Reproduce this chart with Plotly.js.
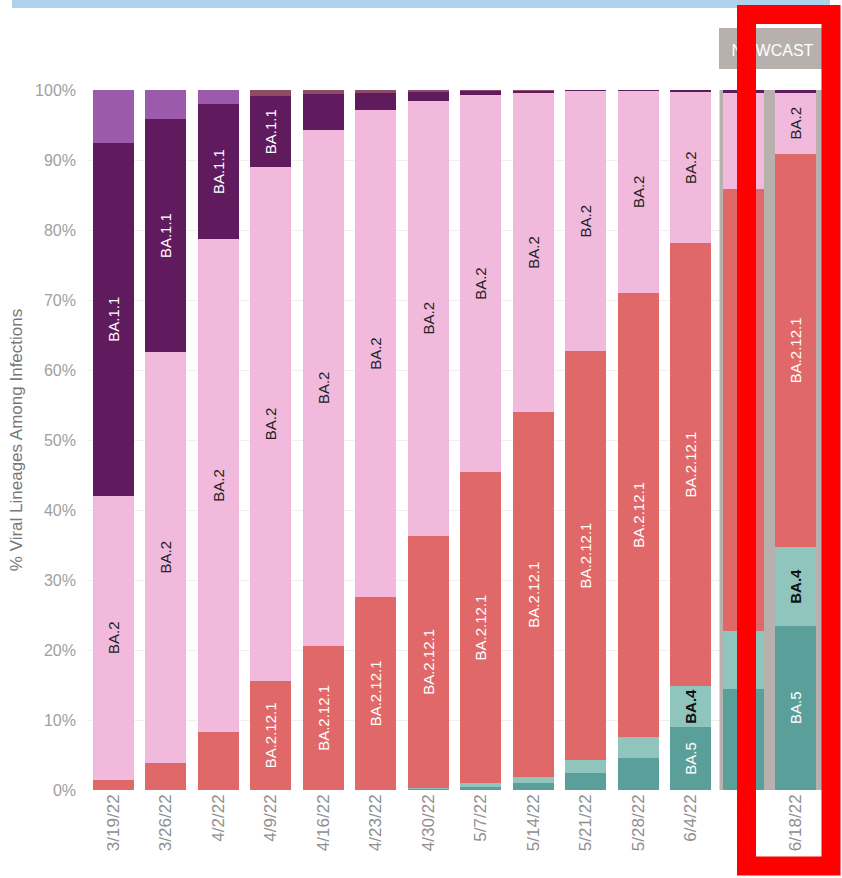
<!DOCTYPE html>
<html>
<head>
<meta charset="utf-8">
<script src="https://cdn.plot.ly/plotly-3.0.1.min.js"></script>
<style>
  html, body { margin: 0; padding: 0; background: #ffffff; }
  #chart { width: 842px; height: 878px; }
</style>
</head>
<body>
<div id="chart"></div>
<script>
// ---- Data (percent of viral lineages, bottom to top) ----
const weeks = ['3/19/22','3/26/22','4/2/22','4/9/22','4/16/22','4/23/22','4/30/22','5/7/22','5/14/22','5/21/22','5/28/22','6/4/22','6/11/22','6/18/22'];
const BA5      = [0,    0,    0,    0,    0,    0,    0.2,  0.4,  1.0,  2.4,  4.6,  9.0,  14.5, 23.5];
const BA4      = [0,    0,    0,    0,    0,    0,    0.1,  0.6,  0.8,  1.9,  3.0,  5.9,  8.2,  11.2];
const BA2121   = [1.5,  3.9,  8.3,  15.6, 20.6, 27.6, 36.0, 44.4, 52.2, 58.4, 63.4, 63.2, 63.2, 56.2];
const BA2      = [40.5, 58.7, 70.4, 73.4, 73.7, 69.5, 62.2, 53.9, 45.6, 37.1, 28.9, 21.6, 13.7, 8.7];
const BA11     = [50.5, 33.2, 19.3, 10.1, 5.1,  2.5,  1.2,  0.5,  0.3,  0.2,  0.1,  0.3,  0.4,  0.4];
const B11529   = [7.5,  4.2,  2.0,  0,    0,    0,    0,    0,    0,    0,    0,    0,    0,    0];
const OTHER    = [0,    0,    0,    0.9,  0.6,  0.4,  0.3,  0.2,  0.1,  0,    0,    0,    0,    0];
const yTicks   = [0,10,20,30,40,50,60,70,80,90,100];

const series = [
  {name: 'BA.5',      y: BA5,    color: '#5b9f9a', text: '#ffffff', weight: 'normal'},
  {name: 'BA.4',      y: BA4,    color: '#90c5be', text: '#111111', weight: 'bold'},
  {name: 'BA.2.12.1', y: BA2121, color: '#e16869', text: '#ffffff', weight: 'normal'},
  {name: 'BA.2',      y: BA2,    color: '#f1badd', text: '#222222', weight: 'normal'},
  {name: 'BA.1.1',    y: BA11,   color: '#5f1b5e', text: '#ffffff', weight: 'normal'},
  {name: 'B.1.1.529', y: B11529, color: '#9b5aab', text: '#ffffff', weight: 'normal'},
  {name: 'Other',     y: OTHER,  color: '#8f4a66', text: '#ffffff', weight: 'normal'}
];

const FONT = 'Liberation Sans, Arial, sans-serif';

const traces = series.map(s => ({
  type: 'bar',
  name: s.name,
  x: weeks,
  y: s.y,
  text: weeks.map(() => s.name),
  textposition: 'inside',
  insidetextanchor: 'middle',
  textangle: -90,
  textfont: {family: FONT, size: 15, color: s.text, weight: s.weight},
  marker: {color: s.color, line: {width: 0}},
  hoverinfo: 'x+y+name'
}));

// pixel -> paper helpers for decorations
const L = 87, R = 824, T = 90, B = 790;
const px = v => (v - L) / (R - L);
const py = v => (B - v) / (B - T);

const layout = {
  width: 842, height: 878,
  margin: {l: L, r: 842 - R, t: T, b: 878 - B},
  paper_bgcolor: '#ffffff', plot_bgcolor: '#ffffff',
  barmode: 'stack',
  bargap: 0.22,
  showlegend: false,
  uniformtext: {mode: 'hide', minsize: 15},
  font: {family: FONT, color: '#888'},
  xaxis: {
    type: 'category',
    tickangle: -90,
    tickfont: {size: 17, color: '#8f8f8f'},
    showgrid: false, zeroline: false, showline: false,
    ticks: '', ticklen: 0
  },
  yaxis: {
    range: [0, 100],
    tickvals: yTicks,
    ticktext: yTicks.map(v => v + '%'),
    tickfont: {size: 16, color: '#a0a0a0'},
    ticklabelstandoff: 10,
    showgrid: true, gridcolor: '#f0f0f0', gridwidth: 1,
    zeroline: false, showline: false, ticks: '',
    title: {text: '% Viral Lineages Among Infections', font: {size: 17, color: '#777'}, standoff: 8}
  },
  shapes: [
    // light blue band at top
    {type: 'rect', xref: 'paper', yref: 'paper', x0: px(12), x1: px(830), y0: py(0), y1: py(8),
     fillcolor: '#aed3eb', line: {width: 0}, layer: 'above'},
    // nowcast grey background behind last two bars
    {type: 'rect', xref: 'x', yref: 'y', x0: 11.55, x1: 13.54, y0: 0, y1: 101.2,
     fillcolor: '#b8b0ac', line: {width: 0}, layer: 'between'},
    // NOWCAST label box
    {type: 'rect', xref: 'paper', yref: 'paper', x0: px(719), x1: px(826), y0: py(69), y1: py(28),
     fillcolor: '#b8b0ac', line: {width: 0}, layer: 'above',
     label: {text: 'NOWCAST', textposition: 'middle center', font: {size: 16, color: '#ffffff', family: FONT}}},
    // red highlight frame (drawn last, over everything)
    {type: 'rect', xref: 'paper', yref: 'paper', x0: px(746.5), x1: px(831), y0: py(866), y1: py(14.5),
     fillcolor: 'rgba(0,0,0,0)', line: {color: '#ff0000', width: 19}, layer: 'above'}
  ]
};

Plotly.newPlot('chart', traces, layout, {displayModeBar: false, staticPlot: true});
</script>
</body>
</html>
